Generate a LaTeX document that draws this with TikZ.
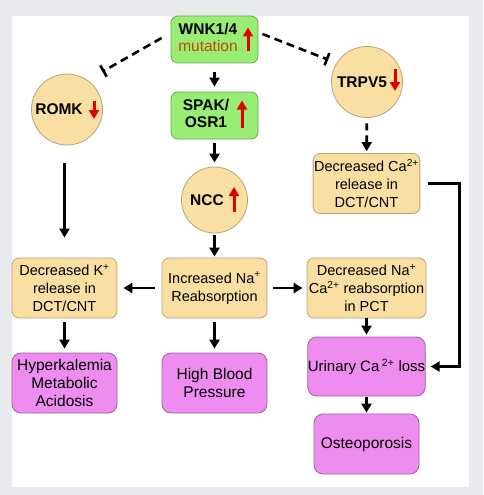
\documentclass[tikz,border=0pt]{standalone}
\usepackage{fontspec}
\setmainfont{Liberation Sans}
\usetikzlibrary{arrows.meta}
\definecolor{bggrey}{HTML}{E8EAEE}
\definecolor{leaf}{HTML}{99EC74}
\definecolor{leafline}{HTML}{6BA84F}
\definecolor{sand}{HTML}{F9DFA2}
\definecolor{sandline}{HTML}{B9A37A}
\definecolor{orchid}{HTML}{EF8CEF}
\definecolor{orchidline}{HTML}{9C639C}
\definecolor{mutred}{HTML}{C24A00}
\definecolor{signred}{HTML}{E00000}
\begin{document}
\begin{tikzpicture}[x=1pt,y=-1pt,>={Triangle[width=10pt,length=9pt]},
    gene/.style={draw=leafline,line width=0.8pt,fill=leaf,rounded corners=7pt,minimum width=87pt,minimum height=47pt,inner sep=0pt,font=\fontsize{15.5}{17}\selectfont\bfseries},
    chan/.style={circle,draw=sandline,line width=0.8pt,fill=sand,minimum size=71pt,inner sep=0pt,font=\fontsize{15.5}{17}\selectfont\bfseries},
    effect/.style={draw=sandline,line width=0.8pt,fill=sand,rounded corners=7pt,minimum width=105pt,minimum height=60pt,inner sep=1pt,align=center,font=\fontsize{14.5}{18}\selectfont},
    outcome/.style={draw=orchidline,line width=0.8pt,fill=orchid,rounded corners=9pt,minimum width=105pt,minimum height=60pt,inner sep=1pt,align=center,font=\fontsize{15.5}{18}\selectfont},
    flow/.style={->,line width=2.6pt},
    inhib/.style={-{Bar[width=13pt]},line width=2.6pt,dash pattern=on 8pt off 5pt},
    sign/.style={draw=signred,line width=3pt,-{Triangle[width=10pt,length=9pt]}}]
  % Coordinates in pixels of the figure, y running down.
  \useasboundingbox (0,0) rectangle (483,495);
  \fill[bggrey] (0,0) rectangle (483,495);
  \fill[white] (12,16) rectangle (469,487);
  % kinases and channels
  \node[gene] (wnk) at (214.5,39.5) {\begin{tabular}{@{}c@{}}WNK1/4\\{\mdseries\color{mutred}mutation}\end{tabular}\kern13pt};
  \node[gene] (spak) at (214.5,115.5) {\begin{tabular}{@{}c@{}}SPAK/\\OSR1\end{tabular}\kern17pt};
  \node[chan] (romk) at (67,109.5) {ROMK\kern16pt};
  \node[chan] (trpv) at (367,82) {TRPV5\kern10pt};
  \node[chan,minimum size=66pt] (ncc) at (214.5,200) {NCC\kern15pt};
  % effects
  \node[effect] (carel) at (366.5,183.5) {Decreased Ca\textsuperscript{2+}\\release in\\DCT/CNT};
  \node[effect] (krel) at (64.5,288) {Decreased K\textsuperscript{+}\\release in\\DCT/CNT};
  \node[effect] (nareab) at (214.5,288) {Increased Na\textsuperscript{+}\\Reabsorption};
  \node[effect,minimum width=119pt] (naca) at (366.5,288) {Decreased Na\textsuperscript{+}\\Ca\textsuperscript{2+} reabsorption\\in PCT};
  % outcomes
  \node[outcome] (hyper) at (64.5,383) {Hyperkalemia\\Metabolic\\Acidosis};
  \node[outcome] (hbp) at (214.5,383) {High Blood\\Pressure};
  \node[outcome,minimum width=113pt,minimum height=59pt,inner sep=0pt,font=\fontsize{15}{18}\selectfont] (urin) at (366.5,366.5) {Urinary Ca\,\textsuperscript{2+} loss};
  \node[outcome] (osteo) at (366.5,444) {Osteoporosis};
  % up / down signs
  \draw[sign] ([shift={(33.5,12)}]wnk.center) -- ++(0,-24);
  \draw[sign] ([shift={(27.5,12)}]spak.center) -- ++(0,-27);
  \draw[sign] ([shift={(19.5,12)}]ncc.center) -- ++(0,-25);
  \draw[sign] ([shift={(27,-8.5)}]romk.center) -- ++(0,18);
  \draw[sign] ([shift={(28,-13)}]trpv.center) -- ++(0,22);
  % inhibitions
  \draw[inhib,shorten >=17pt] ([shift={(-9,-1.5)}]wnk.west) -- (romk.55);
  \draw[inhib,shorten >=9pt] ([shift={(4,-5.5)}]wnk.east) -- (trpv.148);
  % arrows
  \draw[flow,shorten <=9pt,shorten >=5pt] (wnk) -- (spak);
  \draw[flow,shorten <=4pt,shorten >=4pt] (spak) -- (ncc);
  \draw[flow,shorten <=2pt,shorten >=1pt] (ncc) -- (nareab);
  \draw[flow,shorten <=18pt,shorten >=20pt] (romk.south -| krel.north) -- (krel.north);
  \draw[flow,dash pattern=on 7pt off 5pt,shorten <=5.5pt,shorten >=2pt] (trpv) -- (carel);
  \draw[flow,shorten <=7pt,shorten >=6pt] (nareab) -- (krel);
  \draw[flow,shorten <=6pt,shorten >=4pt] (nareab) -- (naca);
  \draw[flow,shorten <=4pt,shorten >=4pt] (krel) -- (hyper);
  \draw[flow,shorten <=4pt,shorten >=4pt] (nareab) -- (hbp);
  \draw[flow,shorten >=2pt] (naca) -- (urin);
  \draw[flow,shorten <=1pt,shorten >=1pt] (urin) -- (osteo);
  \draw[flow,shorten <=8pt,shorten >=5pt] (carel.east) -- ++(39,0) |- (urin.east);
\end{tikzpicture}
\end{document}
